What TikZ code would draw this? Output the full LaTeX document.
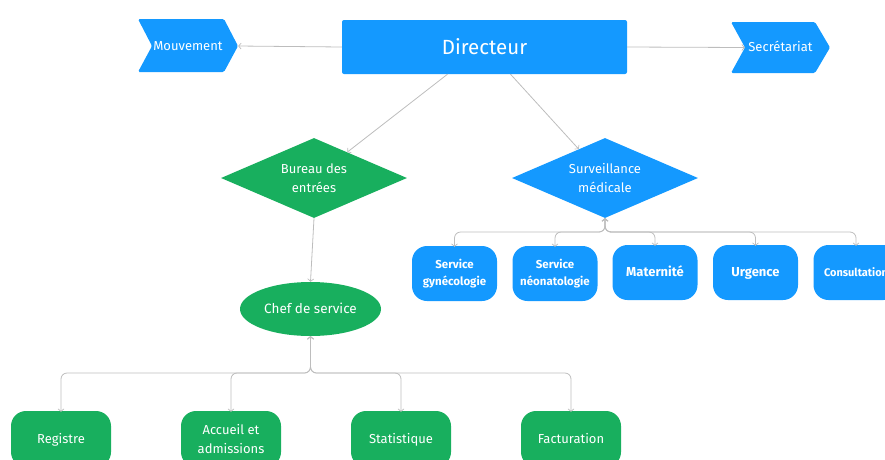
\documentclass[tikz,border=0pt]{standalone}
\usepackage{fontspec}
\setmainfont{Fira Sans}
\usetikzlibrary{shapes.geometric,arrows.meta}
\definecolor{boxblue}{HTML}{1499FF}
\definecolor{boxgreen}{HTML}{18AF5E}
\definecolor{linkgray}{HTML}{BDBDBD}
\tikzset{
  tip/.tip={Straight Barb[length=2.5pt,width=6pt,line width=0.7pt]},
  link/.style={draw=linkgray, line width=0.8pt, -tip},
  twoway/.style={draw=linkgray, line width=0.8pt, tip-tip, rounded corners=6pt},
  label/.style={text=white, align=center, inner sep=0pt},
  oneline/.style={text height=10pt, text depth=2pt},
  bluebox/.style={label, fill=boxblue, rounded corners=15pt, minimum width=85pt,
    minimum height=55pt, font=\bfseries\fontsize{11.5}{16.5}\selectfont},
  greenbox/.style={label, fill=boxgreen, rounded corners=15pt, minimum width=100pt,
    minimum height=56pt, font=\fontsize{13}{19}\selectfont},
  decision/.style={label, diamond, aspect=2.3, minimum width=186pt, minimum height=80pt,
    font=\fontsize{13}{19}\selectfont},
  chevtext/.style={label, oneline, minimum width=100pt, minimum height=53pt, font=\fontsize{13}{14}\selectfont}
}
\begin{document}
\begin{tikzpicture}[x=1pt,y=-1pt]
\useasboundingbox (0,0) rectangle (885,459);

% top row
\node[label, fill=boxblue, rounded corners=2pt, minimum width=285pt, minimum height=54pt,
      font=\fontsize{20.5}{22}\selectfont] (dir) at (484.5,47) {Directeur};

\fill[boxblue, rounded corners=1.5pt] (138,19) -- (224,19) -- (238,46) -- (224,72) -- (138,72) -- (152,46) -- cycle;
\node[chevtext] (mv) at (188,46) {Mouvement};

\fill[boxblue, rounded corners=1.5pt] (731,22) -- (815,22) -- (830,47.5) -- (815,73) -- (731,73) -- (745,47.5) -- cycle;
\node[chevtext, minimum width=99pt] (sc) at (780.5,47.5) {Secrétariat};

% second level
\node[decision, fill=boxgreen] (be) at (314,178) {Bureau des\\entrées};
\node[decision, fill=boxblue] (sm) at (605,178) {Surveillance\\médicale};

% medical services
\node[bluebox] (s1) at (454.5,273.5) {Service\\gynécologie};
\node[bluebox] (s2) at (555,273.5) {Service\\néonatologie};
\node[bluebox, oneline, font=\bfseries\fontsize{13}{16}\selectfont] (s3) at (655,272.5) {Maternité};
\node[bluebox, oneline, font=\bfseries\fontsize{13}{16}\selectfont] (s4) at (755.5,272.5) {Urgence};
\node[bluebox, oneline, font=\bfseries\fontsize{11}{16}\selectfont] (s5) at (856,272.5) {Consultation};

% admissions branch
\node[label, oneline, ellipse, fill=boxgreen, minimum width=141pt, minimum height=54pt,
      font=\fontsize{13.5}{14}\selectfont] (chef) at (310.5,309) {Chef de service};

\node[greenbox, oneline] (g1) at (61,439) {Registre};
\node[greenbox] (g2) at (231,439) {Accueil et\\admissions};
\node[greenbox, oneline] (g3) at (401,439) {Statistique};
\node[greenbox, oneline] (g4) at (571,439) {Facturation};

% connectors
\draw[link] (dir.west) -- (mv.east);
\draw[link] (dir.east) -- ([xshift=14pt]sc.west);
\draw[link] ([xshift=-37pt]dir.south) -- (be);
\draw[link] ([xshift=26pt]dir.south) -- (sm);
\draw[link] (be.south) -- (chef.north);

\coordinate (mbus) at (0,232);
\foreach \s in {s1,s2,s3,s4,s5}
  \draw[twoway] (sm.south) -- (sm.south |- mbus) -| ([yshift=-1pt]\s.north);

\coordinate (gbus) at (0,373);
\foreach \g in {g1,g2,g3,g4}
  \draw[twoway] (chef.south) -- (chef.south |- gbus) -| ([yshift=-1pt]\g.north);
\end{tikzpicture}
\end{document}
